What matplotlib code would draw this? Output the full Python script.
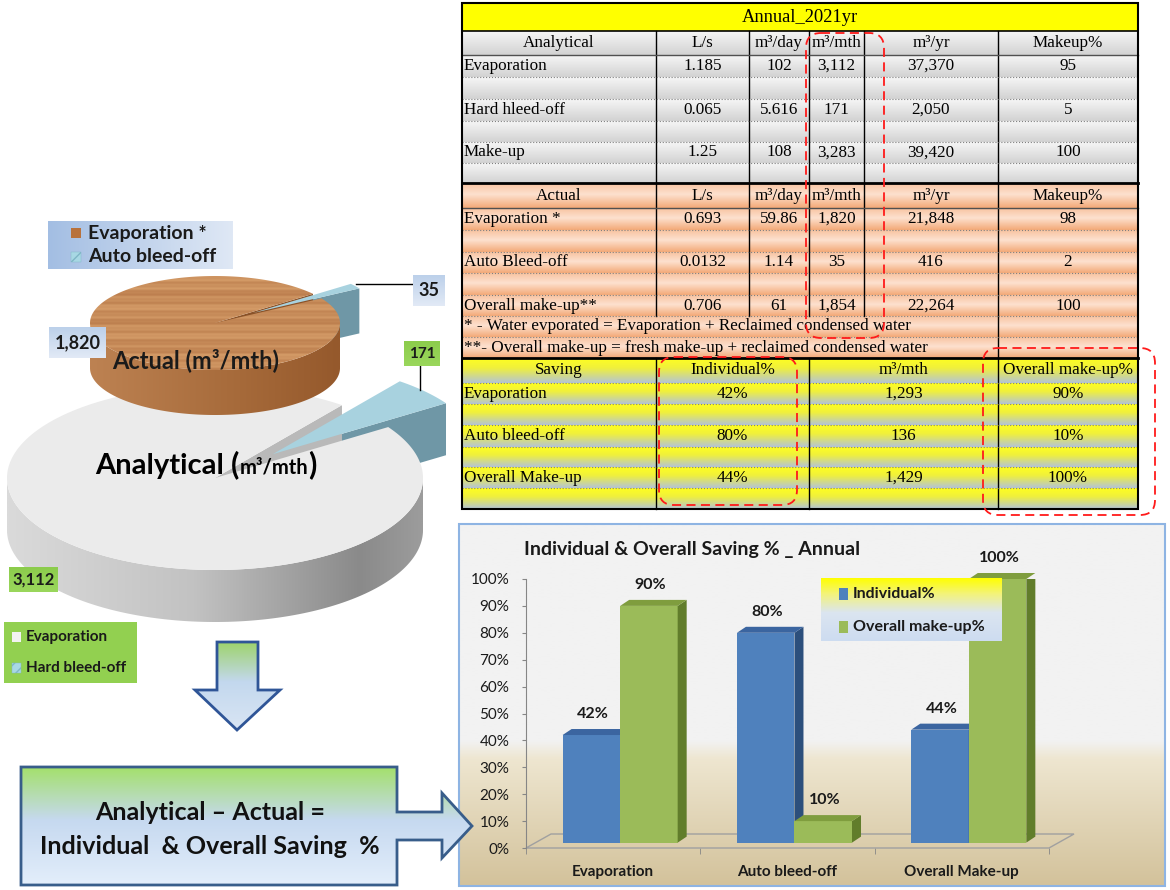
# Water balance infographic: annual table, 3D pies (actual vs analytical) and saving bars
import numpy as np
import matplotlib
matplotlib.use('Agg')
import matplotlib.pyplot as plt
import matplotlib.colors as mcolors
from matplotlib.patches import Polygon, Rectangle, FancyBboxPatch

# ---------------- data ----------------
table_title = "Annual_2021yr"
col_heads = ["L/s", "m³/day", "m³/mth", "m³/yr", "Makeup%"]

ana_names = ["Evaporation", "Hard hleed-off", "Make-up"]
ana_ls = ["1.185", "0.065", "1.25"]
ana_day = ["102", "5.616", "108"]
ana_mth = ["3,112", "171", "3,283"]
ana_yr = ["37,370", "2,050", "39,420"]
ana_pct = ["95", "5", "100"]

act_names = ["Evaporation *", "Auto Bleed-off", "Overall make-up**"]
act_ls = ["0.693", "0.0132", "0.706"]
act_day = ["59.86", "1.14", "61"]
act_mth = ["1,820", "35", "1,854"]
act_yr = ["21,848", "416", "22,264"]
act_pct = ["98", "2", "100"]

notes = ["* - Water evporated = Evaporation + Reclaimed condensed water",
         "**- Overall make-up = fresh make-up + reclaimed condensed water"]

sav_heads = ["Saving", "Individual%", "m³/mth", "Overall make-up%"]
sav_names = ["Evaporation", "Auto bleed-off", "Overall Make-up"]
sav_ind = ["42%", "80%", "44%"]
sav_mth = ["1,293", "136", "1,429"]
sav_all = ["90%", "10%", "100%"]

actual_labels = ["Evaporation *", "Auto bleed-off"]
actual_vals = [1820, 35]
analytical_labels = ["Evaporation", "Hard bleed-off"]
analytical_vals = [3112, 171]

categories = ["Evaporation", "Auto bleed-off", "Overall Make-up"]
individual = [42, 80, 44]
overall = [90, 10, 100]
y_ticks = [0, 10, 20, 30, 40, 50, 60, 70, 80, 90, 100]

SERIF = ['Liberation Serif', 'DejaVu Serif']
SANS = ['Lato', 'DejaVu Sans']
TFS = 12.3  # table font size

fig = plt.figure(figsize=(11.7, 8.9), dpi=100)
ax = fig.add_axes([0, 0, 1, 1])
ax.set_xlim(0, 1170)
ax.set_ylim(890, 0)
ax.axis('off')


def grad(a, x0, y0, x1, y1, stops, z, horiz=False, clip=None):
    t = np.linspace(0, 1, 128)
    fr = [s for s, _ in stops]
    rgb = np.array([mcolors.to_rgb(c) for _, c in stops])
    arr = np.stack([np.interp(t, fr, rgb[:, k]) for k in range(3)], axis=-1)
    arr = arr[None, :, :] if horiz else arr[:, None, :]
    im = a.imshow(arr, extent=(x0, x1, y1, y0), aspect='auto',
                  interpolation='bilinear', zorder=z)
    if clip is not None:
        im.set_clip_path(clip)
    return im


def wood(a, x0, y0, x1, y1, z, clip):
    yy = np.linspace(0, 1, 300)
    w = 0.55 + 0.16 * np.sin(yy * 61) + 0.12 * np.sin(yy * 143 + 1.3) + 0.1 * np.sin(yy * 23)
    c1 = np.array(mcolors.to_rgb('#dba46f'))
    c2 = np.array(mcolors.to_rgb('#b27243'))
    arr = np.clip(c2 + (c1 - c2) * w[:, None], 0, 1)[:, None, :]
    im = a.imshow(arr, extent=(x0, x1, y1, y0), aspect='auto',
                  interpolation='bilinear', zorder=z)
    im.set_clip_path(clip)


# ---------------- table ----------------
cols = [462, 656, 749, 809, 864, 998, 1138]
ana_y = [31, 55, 77, 99, 121, 142, 163, 183]
act_y = [183, 208, 230, 252, 273, 295, 316]
note_y = [316, 337, 358]
sav_y = [358, 383, 404, 425, 447, 467, 488, 509]

grey_st = [(0, '#f6f6f6'), (1, '#d2d2d2')]
peach_st = [(0, '#f8c3a0'), (0.45, '#fde1cf'), (1, '#f3a977')]
sav_st = [(0, '#ffff20'), (0.4, '#f0f03c'), (1, '#b4c4d6')]

ax.add_patch(Rectangle((462, 3), 676, 28, fc='#ffff00', ec='none', zorder=1))
ax.text(800, 17, table_title, ha='center', va='center', fontsize=13.3, family=SERIF, zorder=3)


def block(ys, stops, head, names, columns):
    for k in range(len(ys) - 1):
        grad(ax, 462, ys[k], 1138, ys[k + 1], stops, 1)
    centers = [(cols[i] + cols[i + 1]) / 2 for i in range(len(cols) - 1)]
    yc = (ys[0] + ys[1]) / 2
    ax.text(centers[0], yc, head, ha='center', va='center', fontsize=TFS, family=SERIF, zorder=3)
    for c, h in zip(centers[1:], col_heads):
        ax.text(c, yc, h, ha='center', va='center', fontsize=TFS, family=SERIF, zorder=3)
    for j, nm in enumerate(names):
        yr = (ys[2 * j + 1] + ys[2 * j + 2]) / 2
        ax.text(464, yr, nm, ha='left', va='center', fontsize=TFS, family=SERIF, zorder=3)
        for c, col in zip(centers[1:], columns):
            ax.text(c, yr, col[j], ha='center', va='center', fontsize=TFS, family=SERIF, zorder=3)
    for x in cols[1:-1]:
        ax.plot([x, x], [ys[0], ys[-1]], color='black', lw=1, zorder=4)
    ax.plot([462, 1138], [ys[1], ys[1]], color='#505050', lw=1, zorder=4)
    for y in ys[2:-1]:
        ax.plot([462, 1138], [y, y], color='#808080', lw=0.8, ls=':', zorder=4)


block(ana_y, grey_st, "Analytical", ana_names, [ana_ls, ana_day, ana_mth, ana_yr, ana_pct])
block(act_y, peach_st, "Actual", act_names, [act_ls, act_day, act_mth, act_yr, act_pct])

for k in range(2):
    grad(ax, 462, note_y[k], 1138, note_y[k + 1], peach_st, 1)
    ax.text(464, (note_y[k] + note_y[k + 1]) / 2, notes[k], ha='left', va='center',
            fontsize=TFS, family=SERIF, zorder=3)
ax.plot([998, 998], [note_y[0], note_y[-1]], color='black', lw=1, zorder=4)
ax.plot([462, 1138], [note_y[1], note_y[1]], color='#808080', lw=0.8, ls=':', zorder=4)
ax.plot([462, 1138], [note_y[0], note_y[0]], color='#808080', lw=0.8, ls=':', zorder=4)

sav_cols = [462, 656, 809, 998, 1138]
for k in range(len(sav_y) - 1):
    grad(ax, 462, sav_y[k], 1138, sav_y[k + 1], sav_st, 1)
sc = [(sav_cols[i] + sav_cols[i + 1]) / 2 for i in range(4)]
yc = (sav_y[0] + sav_y[1]) / 2
for c, h in zip(sc, sav_heads):
    ax.text(c, yc, h, ha='center', va='center', fontsize=TFS, family=SERIF, zorder=3)
for j, nm in enumerate(sav_names):
    yr = (sav_y[2 * j + 1] + sav_y[2 * j + 2]) / 2
    ax.text(464, yr, nm, ha='left', va='center', fontsize=TFS, family=SERIF, zorder=3)
    for c, col in zip(sc[1:], [sav_ind, sav_mth, sav_all]):
        ax.text(c, yr, col[j], ha='center', va='center', fontsize=TFS, family=SERIF, zorder=3)
for x in sav_cols[1:-1]:
    ax.plot([x, x], [sav_y[0], sav_y[-1]], color='black', lw=1, zorder=4)
for y in sav_y[1:-1]:
    ax.plot([462, 1138], [y, y], color='#808080', lw=0.8, ls=':', zorder=4)

ax.plot([462, 1138], [31, 31], color='black', lw=1.2, zorder=4)
ax.plot([462, 1138], [183, 183], color='black', lw=2, zorder=4)
ax.plot([462, 1138], [358, 358], color='black', lw=2, zorder=4)
ax.add_patch(Rectangle((462, 3), 676, 506, fc='none', ec='black', lw=1.5, zorder=5))

for (x, y, w, h) in [(806, 33, 78, 305), (659, 357, 138, 148), (983, 348, 172, 167)]:
    ax.add_patch(FancyBboxPatch((x, y), w, h, boxstyle="round,pad=0,rounding_size=15",
                                fc='none', ec='#ff1a1a', lw=1.3, ls=(0, (5, 3)), zorder=10))


# ---------------- 3D pies ----------------
def paint(pts, spec, z):
    poly = Polygon(pts, closed=True, ec='none', zorder=z,
                   fc=spec if isinstance(spec, str) and spec != 'wood' else 'none')
    ax.add_patch(poly)
    x0, x1 = pts[:, 0].min(), pts[:, 0].max()
    y0, y1 = pts[:, 1].min(), pts[:, 1].max()
    if spec == 'wood':
        wood(ax, x0, y0, x1, y1, z, poly)
    elif isinstance(spec, list):
        grad(ax, x0, y0, x1, y1, spec, z, horiz=True, clip=poly)


def edge(px, py, rx, ry, angs):
    t = np.radians(angs)
    return px + rx * np.cos(t), py - ry * np.sin(t)


def draw_disk(cx, cy, rx, ry, th, vals, start, explode, styles, z):
    total = float(sum(vals))
    a = start
    pieces = []
    for v, e, st in zip(vals, explode, styles):
        span = 360.0 * v / total
        pieces.append((a, a + span, e, st))
        a += span
    order = sorted(range(len(pieces)), key=lambda i: -pieces[i][2])
    geo = []
    for i in order:
        a1, a2, e, st = pieces[i]
        mid = np.radians((a1 + a2) / 2)
        px, py = cx + e * rx * np.cos(mid), cy - e * ry * np.sin(mid)
        angs = np.linspace(a1, a2, max(int((a2 - a1) * 2), 30))
        ex, ey = edge(px, py, rx, ry, angs)
        geo.append((px, py, angs, ex, ey, st))
        # radial cut faces
        for ang, vis in ((a1, np.cos(np.radians(a1)) > 0), (a2, np.cos(np.radians(a2)) < 0)):
            if vis:
                qx, qy = edge(px, py, rx, ry, np.array([ang]))
                pts = np.array([[px, py], [qx[0], qy[0]], [qx[0], qy[0] + th], [px, py + th]])
                paint(pts, st['cut'], z)
        # front rim
        front = np.sin(np.radians(angs)) < 0
        idx = np.where(front)[0]
        if len(idx):
            runs = np.split(idx, np.where(np.diff(idx) > 1)[0] + 1)
            for r in runs:
                if len(r) < 2:
                    continue
                top = np.column_stack([ex[r], ey[r]])
                bot = np.column_stack([ex[r], ey[r] + th])[::-1]
                paint(np.vstack([top, bot]), st['rim'], z + 0.1)
    for px, py, angs, ex, ey, st in geo:
        pts = np.vstack([[px, py], np.column_stack([ex, ey])])
        paint(pts, st['top'], z + 1)


blue_slice = {'top': '#a8d2df', 'rim': '#7aa3b3', 'cut': '#6f97a6'}
grey_body = {'top': '#ebebeb',
             'rim': [(0, '#dadada'), (0.45, '#c2c2c2'), (0.85, '#8a8a8a'), (1, '#9c9c9c')],
             'cut': '#b9b9b9'}
wood_body = {'top': 'wood',
             'rim': [(0, '#bd8252'), (0.6, '#a66a3a'), (1, '#95592c')],
             'cut': '#8a5228'}

ana_span = 360.0 * analytical_vals[1] / sum(analytical_vals)
draw_disk(215, 478, 208, 92, 52, analytical_vals, 43 + ana_span / 2, [0, 0.38],
          [grey_body, blue_slice], 2)

act_span = 360.0 * actual_vals[1] / sum(actual_vals)
draw_disk(215, 323, 125, 47, 45, actual_vals, 35 + act_span / 2, [0, 0.37],
          [wood_body, blue_slice], 5)

ax.text(196, 360, "Actual (m³/mth)", ha='center', va='center', fontsize=17,
        fontweight='bold', family=SANS, color='#1a1a1a', zorder=8)
ax.text(95, 474, "Analytical", ha='left', va='baseline', fontsize=21,
        fontweight='bold', family=SANS, color='black', zorder=8)
ax.text(231, 474, "(", ha='left', va='baseline', fontsize=22,
        fontweight='bold', family=SANS, color='black', zorder=8)
ax.text(240, 474, "m³/mth", ha='left', va='baseline', fontsize=14.5,
        fontweight='bold', family=SANS, color='black', zorder=8)
ax.text(308, 474, ")", ha='left', va='baseline', fontsize=22,
        fontweight='bold', family=SANS, color='black', zorder=8)


def label_box(x0, y0, x1, y1, txt, stops, fs):
    r = Rectangle((x0, y0), x1 - x0, y1 - y0, fc='none', ec='none', zorder=8)
    ax.add_patch(r)
    grad(ax, x0, y0, x1, y1, stops, 8, clip=r)
    ax.text((x0 + x1) / 2, (y0 + y1) / 2, txt, ha='center', va='center', fontsize=fs,
            fontweight='bold', family=SANS, color='#1a1a1a', zorder=9)


lb_blue = [(0, '#bcd0ea'), (1, '#e2eaf6')]
lb_green = [(0, '#8ccc4c'), (1, '#9ad75c')]
label_box(49, 327, 106, 358, f"{actual_vals[0]:,}", lb_blue, 13)
label_box(413, 275, 445, 306, f"{actual_vals[1]:,}", lb_blue, 13)
label_box(404, 341, 440, 366, f"{analytical_vals[1]:,}", lb_green, 11)
label_box(9, 567, 58, 592, f"{analytical_vals[0]:,}", lb_green, 12)
ax.plot([356, 413], [284, 284], color='black', lw=1, zorder=7)
ax.plot([420, 420], [366, 390], color='black', lw=1, zorder=7)

# legends of pies
r = Rectangle((48, 221), 185, 48, fc='none', ec='none', zorder=8)
ax.add_patch(r)
grad(ax, 48, 221, 233, 269, [(0, '#a3bee3'), (1, '#dfe8f5')], 8, horiz=True, clip=r)
ax.add_patch(Rectangle((71, 228), 10, 10, fc='#b8723c', ec='none', zorder=9))
ax.add_patch(Rectangle((71, 252), 10, 10, fc='#a8d8e4', ec='#7fb6c6', lw=0.3, hatch='///', zorder=9))
for yy, t in zip([233, 257], actual_labels):
    ax.text(88, yy, t, ha='left', va='center', fontsize=14, fontweight='bold',
            family=SANS, color='#1a1a1a', zorder=9)

ax.add_patch(Rectangle((4, 622), 133, 61, fc='#92d050', ec='none', zorder=8))
ax.add_patch(Rectangle((12, 632), 9, 10, fc='#f2f2f2', ec='none', zorder=9))
ax.add_patch(Rectangle((12, 663), 9, 10, fc='#a8d8e4', ec='#7fb6c6', lw=0.3, hatch='///', zorder=9))
for yy, t in zip([637, 668], analytical_labels):
    ax.text(26, yy, t, ha='left', va='center', fontsize=11, fontweight='bold',
            family=SANS, color='#1a1a1a', zorder=9)

# down arrow
arr_pts = np.array([[217, 642], [258, 642], [258, 690], [280, 690], [237, 730],
                    [195, 690], [217, 690]])
p = Polygon(arr_pts, closed=True, fc='none', ec='#2f5597', lw=2, zorder=9)
ax.add_patch(p)
grad(ax, 195, 642, 280, 730, [(0, '#9ed36c'), (0.45, '#c3d8ee'), (1, '#d9e5f4')], 8.5, clip=p)

# ---------------- bar panel ----------------
pan = Rectangle((459, 524), 706, 362, fc='none', ec='#8eb4e3', lw=1.5, zorder=2)
ax.add_patch(pan)
grad(ax, 459, 524, 1165, 886, [(0, '#f2f2f2'), (0.6, '#f2f2f2'), (0.65, '#eee6d0'),
                               (1, '#d3c29b')], 1.5, clip=pan)
ax.text(524, 550, "Individual & Overall Saving % _ Annual", ha='left', va='center',
        fontsize=14, fontweight='bold', family=SANS, color='#1a1a1a', zorder=3)

# box + right arrow
box_pts = np.array([[21, 767], [397, 767], [397, 812], [442, 812], [442, 793], [472, 826],
                    [442, 858], [442, 840], [397, 840], [397, 885], [21, 885]])
p2 = Polygon(box_pts, closed=True, fc='none', ec='#385d8a', lw=2, zorder=12)
ax.add_patch(p2)
grad(ax, 21, 767, 472, 885, [(0, '#a4e06c'), (0.45, '#c6d9f0'), (1, '#e3eefb')], 11.5, clip=p2)
ax.text(210, 812, "Analytical – Actual =", ha='center', va='center', fontsize=18,
        fontweight='bold', family=SANS, color='#111111', zorder=13)
ax.text(210, 846, "Individual  & Overall Saving  %", ha='center', va='center', fontsize=18,
        fontweight='bold', family=SANS, color='#111111', zorder=13)

ax.set_xlim(0, 1170)
ax.set_ylim(890, 0)

# bar axes
ax2 = fig.add_axes([526 / 1170, 1 - 848 / 890, 523 / 1170, 269 / 890])
ax2.set_xlim(-0.5, 2.5)
ax2.set_ylim(0, 100)
ax2.patch.set_visible(False)
for s in ['top', 'right', 'bottom']:
    ax2.spines[s].set_visible(False)
ax2.spines['left'].set_color('#868686')
ax2.set_yticks(y_ticks)
ax2.set_yticklabels([f"{v}%" for v in y_ticks], fontsize=11, family=SANS, color='#1a1a1a')
ax2.tick_params(axis='y', length=3, color='#868686', pad=9)
ax2.set_xticks(range(len(categories)))
ax2.set_xticklabels(categories, fontsize=11, fontweight='bold', family=SANS, color='#1a1a1a')
ax2.tick_params(axis='x', which='major', length=0, pad=12)
ax2.set_xticks([-0.5, 0.5, 1.5, 2.5], minor=True)
ax2.tick_params(axis='x', which='minor', length=4, color='#868686', direction='out')

ux = 3 / 523.0
uy = 100 / 269.0
fdx, fdy = 25 * ux, 14 * uy
ax2.add_patch(Polygon([[-0.5, 0], [2.5, 0], [2.5 + fdx, fdy], [-0.5 + fdx, fdy]], closed=True,
                      fc='none', ec='#a0a0a0', lw=1, clip_on=False, zorder=2))

bw = 0.33
base = 2
bdx, bdy = 9 * ux, 6 * uy
series = [(individual, -0.29, '#4f81bd', '#3b65a0', '#2c4f7c'),
          (overall, 0.04, '#9bbb59', '#7f9d3e', '#617d2b')]
for i in range(len(categories)):
    for vals, off, face, top, side in series:
        v = vals[i]
        x0 = i + off
        x1 = x0 + bw
        ax2.bar(x0, v - base, bottom=base, width=bw, align='edge', color=face, zorder=3)
        ax2.add_patch(Polygon([[x1, base], [x1, v], [x1 + bdx, v + bdy], [x1 + bdx, base + bdy]],
                              closed=True, fc=side, ec='none', zorder=3))
        ax2.add_patch(Polygon([[x0, v], [x1, v], [x1 + bdx, v + bdy], [x0 + bdx, v + bdy]],
                              closed=True, fc=top, ec='none', zorder=3, clip_on=False))
        ax2.text(x0 + bw / 2 + 0.01, v + 21 * uy, f"{v}%", ha='center', va='center',
                 fontsize=11.5, fontweight='bold', family=SANS, color='#1a1a1a',
                 zorder=4, clip_on=False)

# overlay for bar legend
ax3 = fig.add_axes([0, 0, 1, 1])
ax3.set_xlim(0, 1170)
ax3.set_ylim(890, 0)
ax3.axis('off')
ax3.patch.set_visible(False)
lg = Rectangle((821, 578), 181, 63, fc='none', ec='none', zorder=1)
ax3.add_patch(lg)
grad(ax3, 821, 578, 1002, 641, [(0, '#ffff00'), (0.25, '#f3f37a'), (0.55, '#dbe5f1'),
                                (1, '#cddcf0')], 1, clip=lg)
ax3.add_patch(Rectangle((839, 588), 9, 12, fc='#4f81bd', ec='none', zorder=2))
ax3.add_patch(Rectangle((839, 621), 9, 12, fc='#9bbb59', ec='none', zorder=2))
ax3.text(853, 594, "Individual%", ha='left', va='center', fontsize=11.5, fontweight='bold',
         family=SANS, color='#1a1a1a', zorder=3)
ax3.text(853, 627, "Overall make-up%", ha='left', va='center', fontsize=11.5, fontweight='bold',
         family=SANS, color='#1a1a1a', zorder=3)
ax3.set_xlim(0, 1170)
ax3.set_ylim(890, 0)

fig.savefig('out.png', dpi=100)
